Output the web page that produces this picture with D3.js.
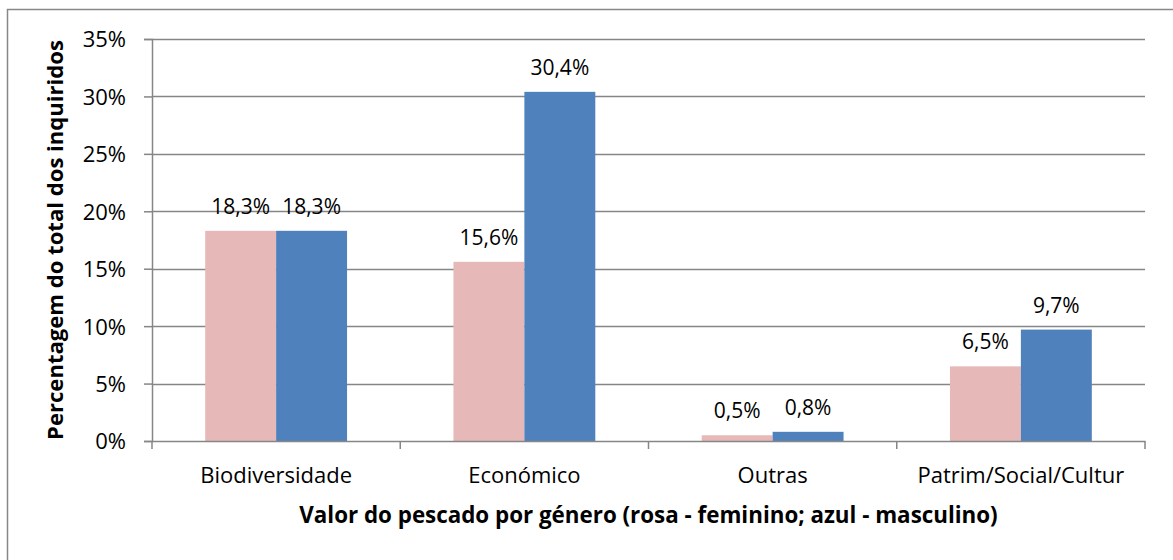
<!DOCTYPE html>
<html>
<head>
<meta charset="utf-8">
<script src="https://cdn.jsdelivr.net/npm/d3@7"></script>
<style>
  body { margin: 0; background: #fff; }
  svg text { font-family: "Open Sans", "Noto Sans", sans-serif; fill: #000; }
</style>
</head>
<body>
<svg id="chart" width="1173" height="560"></svg>
<script>
// data
var categories = ['Biodiversidade', 'Económico', 'Outras', 'Patrim/Social/Cultur'];
var feminino = [18.3, 15.6, 0.5, 6.5];
var masculino = [18.3, 30.4, 0.8, 9.7];
var yTicks = [0, 5, 10, 15, 20, 25, 30, 35];
var seriesNames = ['feminino', 'masculino'];
var seriesColors = ['#e6b9b8', '#4f81bd'];

var svg = d3.select('#chart');
var plotLeft = 152, plotRight = 1145, plotTop = 39, plotBottom = 441;
var gridColor = '#868686';

// outer chart border (runs off the right/bottom edge)
svg.append('rect')
    .attr('x', 7.5).attr('y', 9.5)
    .attr('width', 1200).attr('height', 600)
    .attr('fill', 'none')
    .attr('stroke', '#878787')
    .attr('stroke-width', 1.5);

var x0 = d3.scaleBand().domain(categories).range([plotLeft, plotRight]).paddingInner(0).paddingOuter(0);
// excel gap width 150% -> bar = band / 3.5
var x1 = d3.scaleBand().domain(seriesNames)
    .range([0, x0.bandwidth()]).paddingOuter(0.75).paddingInner(0);
var y = d3.scaleLinear().domain([0, 35]).range([plotBottom, plotTop]);

// gridlines
svg.append('g').selectAll('line')
    .data(yTicks.filter(d => d > 0))
    .join('line')
    .attr('x1', plotLeft).attr('x2', plotRight)
    .attr('y1', d => Math.round(y(d)) + 0.5).attr('y2', d => Math.round(y(d)) + 0.5)
    .attr('stroke', gridColor).attr('stroke-width', 1.5);

// y axis
var yAxis = d3.axisLeft(y).tickValues(yTicks).tickSize(8).tickPadding(18)
    .tickFormat(d => d + '%');
var gy = svg.append('g').attr('transform', `translate(${plotLeft},0)`).call(yAxis);
gy.select('.domain').attr('stroke', gridColor).attr('stroke-width', 1.5);
gy.selectAll('.tick line').attr('stroke', gridColor).attr('stroke-width', 1.5);
gy.selectAll('.tick text').attr('font-size', 22).attr('font-family', '"Open Sans"').attr('dy', '0.36em');

// bars
var rows = categories.map((c, i) => ({cat: c, vals: [feminino[i], masculino[i]]}));
var groups = svg.append('g').selectAll('g')
    .data(rows).join('g')
    .attr('transform', d => `translate(${x0(d.cat)},0)`);

groups.selectAll('rect')
    .data(d => d.vals.map((v, k) => ({key: seriesNames[k], v: v, k: k})))
    .join('rect')
    .attr('x', d => x1(d.key))
    .attr('width', x1.bandwidth())
    .attr('y', d => y(d.v))
    .attr('height', d => y(0) - y(d.v))
    .attr('fill', d => seriesColors[d.k]);

groups.selectAll('text')
    .data(d => d.vals.map((v, k) => ({key: seriesNames[k], v: v})))
    .join('text')
    .attr('x', d => x1(d.key) + x1.bandwidth() / 2)
    .attr('y', d => y(d.v) - 17)
    .attr('text-anchor', 'middle')
    .attr('font-size', 21)
    .text(d => d.v.toFixed(1).replace('.', ',') + '%');

// x axis
var xAxis = d3.axisBottom(x0).tickSize(0).tickPadding(26);
var gx = svg.append('g').attr('transform', `translate(0,${plotBottom})`).call(xAxis);
gx.select('.domain').attr('stroke', gridColor).attr('stroke-width', 1.5);
gx.selectAll('.tick text').attr('font-size', 22).attr('font-family', '"Open Sans"');
// category boundary ticks
gx.append('g').selectAll('line')
    .data(categories.map(c => x0(c)).concat([plotRight]))
    .join('line')
    .attr('x1', d => d).attr('x2', d => d)
    .attr('y1', 0).attr('y2', 8)
    .attr('stroke', gridColor).attr('stroke-width', 1.5);

// titles, fitted to the reference widths
function fit(sel, target) {
  var w = sel.node().getComputedTextLength();
  var fs = parseFloat(sel.attr('font-size'));
  sel.attr('font-size', fs * target / w);
}

var xt = svg.append('text')
    .attr('x', (plotLeft + plotRight) / 2).attr('y', 523)
    .attr('text-anchor', 'middle')
    .attr('font-weight', 'bold').attr('font-size', 20)
    .text('Valor do pescado por género (rosa - feminino; azul - masculino)');
fit(xt, 699);

var yt = svg.append('text')
    .attr('transform', `translate(63,${(plotTop + plotBottom) / 2}) rotate(-90)`)
    .attr('text-anchor', 'middle')
    .attr('font-weight', 'bold').attr('font-size', 20)
    .text('Percentagem do total dos inquiridos');
fit(yt, 400);
</script>
</body>
</html>
